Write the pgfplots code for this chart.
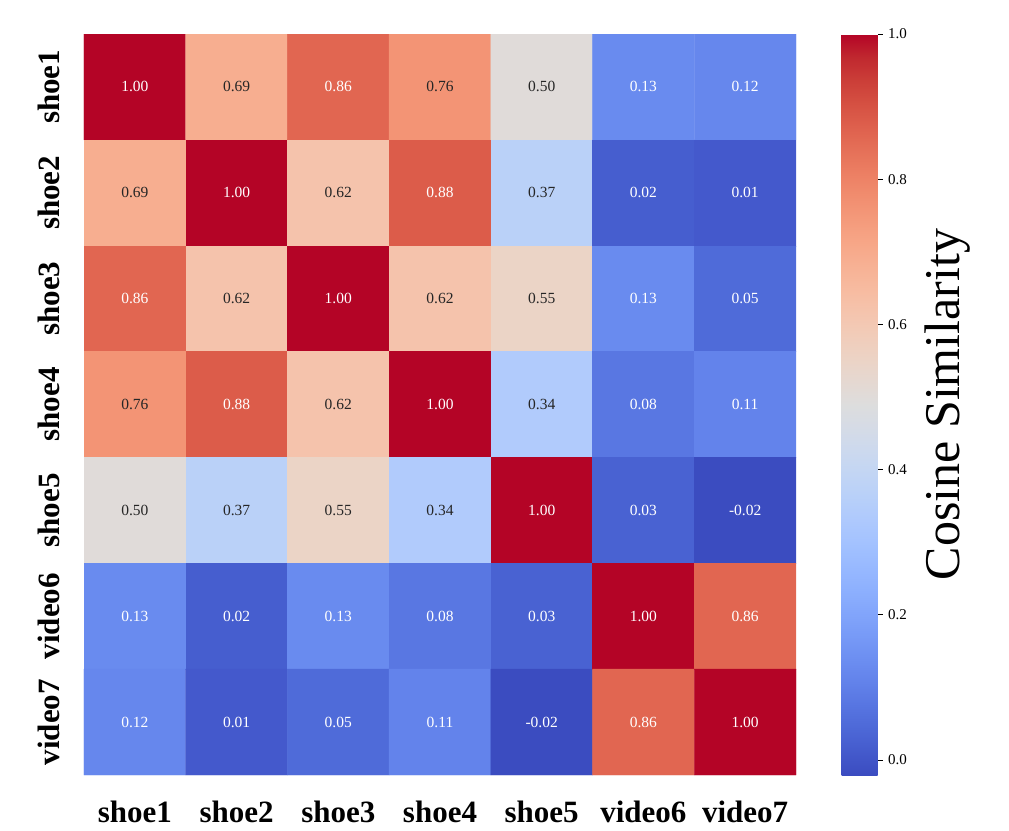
\documentclass[border=0pt]{standalone}
\usepackage{pgfplots}
\pgfplotsset{compat=1.18}
\usepackage{pgfplotstable}
\usepackage{fontspec}
\setmainfont{Liberation Serif}
\definecolor{txtdark}{RGB}{38,38,38}
\pgfplotstableread{
x y v
0 0 1.00
1 0 0.69
2 0 0.86
3 0 0.76
4 0 0.50
5 0 0.13
6 0 0.12
0 1 0.69
1 1 1.00
2 1 0.62
3 1 0.88
4 1 0.37
5 1 0.02
6 1 0.01
0 2 0.86
1 2 0.62
2 2 1.00
3 2 0.62
4 2 0.55
5 2 0.13
6 2 0.05
0 3 0.76
1 3 0.88
2 3 0.62
3 3 1.00
4 3 0.34
5 3 0.08
6 3 0.11
0 4 0.50
1 4 0.37
2 4 0.55
3 4 0.34
4 4 1.00
5 4 0.03
6 4 -0.02
0 5 0.13
1 5 0.02
2 5 0.13
3 5 0.08
4 5 0.03
5 5 1.00
6 5 0.86
0 6 0.12
1 6 0.01
2 6 0.05
3 6 0.11
4 6 -0.02
5 6 0.86
6 6 1.00
}\heat
\begin{document}
\begin{tikzpicture}
\useasboundingbox (0,0) rectangle (1009pt,830pt);
\begin{axis}[
  at={(84pt,55pt)}, anchor=south west,
  width=712pt, height=741pt, scale only axis,
  xmin=-0.5, xmax=6.5, ymin=-0.5, ymax=6.5,
  y dir=reverse,
  axis line style={draw=none},
  major tick length=0pt,
  xtick={0,...,6}, ytick={0,...,6},
  xticklabels={shoe1,shoe2,shoe3,shoe4,shoe5,video6,video7},
  yticklabels={shoe1,shoe2,shoe3,shoe4,shoe5,video6,video7},
  xticklabel style={font=\bfseries\fontsize{31}{31}\selectfont, yshift=-22pt},
  yticklabel style={font=\bfseries\fontsize{31}{31}\selectfont, rotate=90, anchor=south, yshift=21pt},
  colormap={coolwarm}{rgb255=(59,76,192) rgb255=(68,90,204) rgb255=(77,104,215) rgb255=(87,117,225) rgb255=(98,130,234) rgb255=(108,142,241) rgb255=(119,154,247) rgb255=(130,165,251) rgb255=(141,176,254) rgb255=(152,185,255) rgb255=(163,194,255) rgb255=(174,201,253) rgb255=(184,208,249) rgb255=(194,213,244) rgb255=(204,217,238) rgb255=(213,219,230) rgb255=(221,221,221) rgb255=(229,216,209) rgb255=(236,211,197) rgb255=(241,204,185) rgb255=(245,196,173) rgb255=(247,187,160) rgb255=(247,177,148) rgb255=(247,166,135) rgb255=(244,154,123) rgb255=(241,141,111) rgb255=(236,127,99) rgb255=(229,112,88) rgb255=(222,96,77) rgb255=(213,80,66) rgb255=(203,62,56) rgb255=(192,40,47) rgb255=(180,4,38)},
  point meta min=-0.0207, point meta max=1.0,
  colorbar,
  colorbar/width=36pt,
  colorbar style={
    at={(parent axis.north east)}, anchor=north west, xshift=37pt,
    height=741pt, scale only axis,
    axis line style={draw=none},
    ytick={0,0.2,0.4,0.6,0.8,1.0},
    ytick pos=right, tick align=outside,
    major tick length=5pt,
    ytick style={black, line width=0.8pt},
    yticklabel style={font=\fontsize{15}{15}\selectfont, xshift=2pt,
      /pgf/number format/fixed, /pgf/number format/fixed zerofill,
      /pgf/number format/precision=1, /pgf/number format/assume math mode=true},
    ylabel={Cosine Similarity},
    ylabel style={font=\fontsize{50}{50}\selectfont, at={(rel axis cs:1,0.5)}, anchor=north, yshift=-44pt},
  },
  nodes near coords={\pgfmathprintnumber[fixed,fixed zerofill,precision=2,assume math mode=true]{\pgfplotspointmeta}},
  nodes near coords align={center},
]
\addplot[matrix plot*, mesh/cols=7, point meta=explicit, nodes near coords={}] table[x=x, y=y, meta=v] {\heat};
\addplot[draw=none, mark=none, point meta=explicit, restrict expr to domain={\thisrow{v}}{0.2:0.8},
  nodes near coords style={text=txtdark, font=\fontsize{15.5}{15.5}\selectfont, anchor=center}] table[x=x, y=y, meta=v] {\heat};
\addplot[draw=none, mark=none, point meta=explicit, restrict expr to domain={\thisrow{v}}{-1:0.2},
  nodes near coords style={text=white, font=\fontsize{15.5}{15.5}\selectfont, anchor=center}] table[x=x, y=y, meta=v] {\heat};
\addplot[draw=none, mark=none, point meta=explicit, restrict expr to domain={\thisrow{v}}{0.8:2},
  nodes near coords style={text=white, font=\fontsize{15.5}{15.5}\selectfont, anchor=center}] table[x=x, y=y, meta=v] {\heat};
\end{axis}
\end{tikzpicture}
\end{document}
